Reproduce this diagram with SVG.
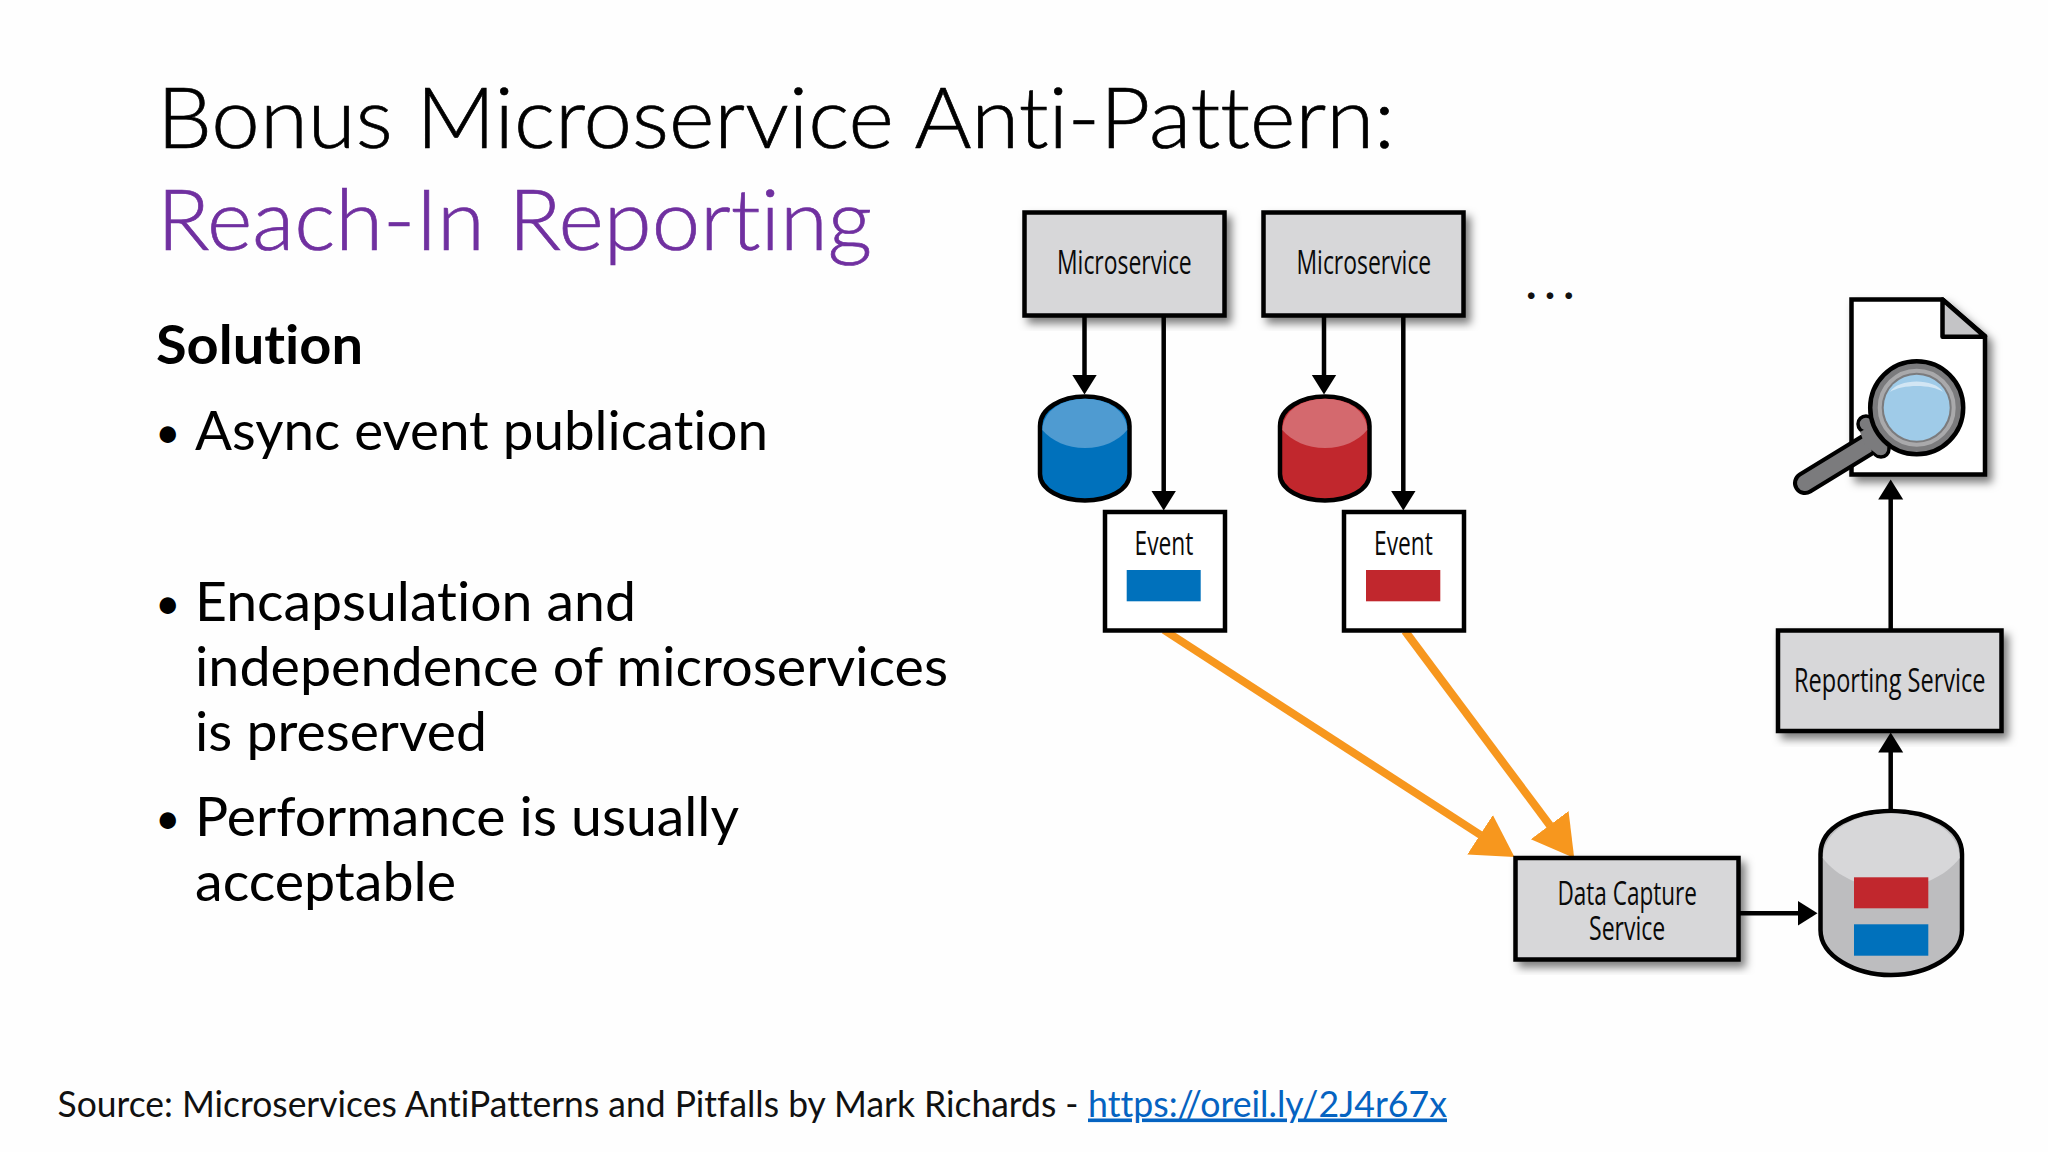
<svg xmlns="http://www.w3.org/2000/svg" width="2048" height="1152" viewBox="0 0 2048 1152">
<style>
.t{font-family:Lato,"Liberation Sans",sans-serif;font-variant-ligatures:none}
.title{font-weight:300;font-size:84px;stroke-width:.7}
.body{font-size:54px;fill:#000}
.bul{font-size:44px;fill:#000}
.src{font-size:36px;fill:#111}
.lab{font-family:"Open Sans","Liberation Sans",sans-serif;font-size:33px;fill:#0a0a0a}
.box{fill:#d7d7d9;stroke:#000;stroke-width:4.5}
.white{fill:#fff;stroke:#000;stroke-width:4.5}
.cyl{stroke:#000;stroke-width:4.5}
.conn{fill:none;stroke:#000;stroke-width:4.5}
.or{fill:none;stroke:#f7971e;stroke-width:8}
</style>
<defs>
<filter id="sh" x="-15%" y="-15%" width="130%" height="130%"><feDropShadow dx="5" dy="6" stdDeviation="4" flood-color="#000" flood-opacity=".5"/></filter>
<marker id="ah" markerUnits="userSpaceOnUse" markerWidth="21" markerHeight="26" refX="0.5" refY="12.5" orient="auto"><path d="M0,0L20,12.5L0,25Z" fill="#000"/></marker>
<marker id="oh" markerUnits="userSpaceOnUse" markerWidth="42" markerHeight="48" refX="0.5" refY="23.5" orient="auto"><path d="M0,0L41,23.5L0,47Z" fill="#f7971e"/></marker>
</defs>
<rect width="2048" height="1152" fill="#fefefe"/>
<g id="slide-text">
<text class="t title" x="157" y="148" textLength="1238" lengthAdjust="spacingAndGlyphs" fill="#000" stroke="#000">Bonus Microservice Anti-Pattern:</text>
<text class="t title" x="157" y="250" textLength="715" lengthAdjust="spacingAndGlyphs" fill="#7030a0" stroke="#7030a0">Reach-In Reporting</text>
<text class="t body" x="156" y="364" font-weight="700" textLength="207" lengthAdjust="spacingAndGlyphs">Solution</text>
<text class="t bul" x="155" y="448">•</text>
<text class="t body" x="195" y="450" textLength="573" lengthAdjust="spacingAndGlyphs">Async event publication</text>
<text class="t bul" x="155" y="619">•</text>
<text class="t body" x="195" y="621" textLength="441" lengthAdjust="spacingAndGlyphs">Encapsulation and</text>
<text class="t body" x="195" y="686" textLength="753" lengthAdjust="spacingAndGlyphs">independence of microservices</text>
<text class="t body" x="195" y="751" textLength="292" lengthAdjust="spacingAndGlyphs">is preserved</text>
<text class="t bul" x="155" y="834">•</text>
<text class="t body" x="195" y="836" textLength="544" lengthAdjust="spacingAndGlyphs">Performance is usually</text>
<text class="t body" x="195" y="901" textLength="261" lengthAdjust="spacingAndGlyphs">acceptable</text>
<text class="t src" x="57.5" y="1116.5" textLength="1021" lengthAdjust="spacingAndGlyphs">Source: Microservices AntiPatterns and Pitfalls by Mark Richards -</text>
<text class="t src" x="1088" y="1116.5" textLength="359" lengthAdjust="spacingAndGlyphs" text-decoration="underline" style="fill:#0563c1">https://oreil.ly/2J4r67x</text>
<text class="t" x="1526" y="299" font-size="44" font-weight="700" textLength="48" fill="#111">...</text>
</g>
<g id="connectors">
<path class="conn" d="M1084.5,316V375" marker-end="url(#ah)"/>
<path class="conn" d="M1163.7,316V491" marker-end="url(#ah)"/>
<path class="conn" d="M1324,316V375" marker-end="url(#ah)"/>
<path class="conn" d="M1403.3,316V491" marker-end="url(#ah)"/>
<path class="conn" d="M1739,913.3H1798" marker-end="url(#ah)"/>
<path class="conn" d="M1890.7,810V752" marker-end="url(#ah)"/>
<path class="conn" d="M1890.7,630V499" marker-end="url(#ah)"/>
<path class="or" d="M1164,630L1480.5,835" marker-end="url(#oh)"/>
<path class="or" d="M1405,631L1550,825.5" marker-end="url(#oh)"/>
</g>
<g id="microservice-1"><rect class="box" x="1024.5" y="212.5" width="200" height="103" filter="url(#sh)"/><text class="lab" transform="translate(1057 274) scale(.7 1)" textLength="192.5" lengthAdjust="spacingAndGlyphs">Microservice</text></g>
<g id="microservice-2"><rect class="box" x="1263.5" y="212.5" width="200" height="103" filter="url(#sh)"/><text class="lab" transform="translate(1296.5 274) scale(.7 1)" textLength="192.5" lengthAdjust="spacingAndGlyphs">Microservice</text></g>
<g id="db-blue">
<path class="cyl" fill="#0071bc" d="M1040,426C1040,408 1062,396.5 1085,396.5C1108,396.5 1129.5,408 1129.5,426V474C1129.5,490 1108,500.5 1085,500.5C1062,500.5 1040,490 1040,474Z"/>
<path fill="#4f9bd1" d="M1042.3,430C1043,410 1063,398.8 1085,398.8C1107,398.8 1126.5,410 1127.2,430C1118,441 1103,448 1085,448C1067,448 1052,441 1042.3,430Z"/>
</g>
<g id="db-red">
<path class="cyl" fill="#c1272d" d="M1280,426C1280,408 1302,396.5 1325,396.5C1348,396.5 1369.5,408 1369.5,426V474C1369.5,490 1348,500.5 1325,500.5C1302,500.5 1280,490 1280,474Z"/>
<path fill="#d4696e" d="M1282.3,430C1283,410 1303,398.8 1325,398.8C1347,398.8 1366.5,410 1367.2,430C1358,441 1343,448 1325,448C1307,448 1292,441 1282.3,430Z"/>
</g>
<g id="event-1"><rect class="white" x="1105" y="512" width="120" height="118.5"/><text class="lab" transform="translate(1134.5 555) scale(.7 1)" textLength="84" lengthAdjust="spacingAndGlyphs">Event</text><rect x="1126.7" y="570" width="74" height="31.3" fill="#0071bc"/></g>
<g id="event-2"><rect class="white" x="1344" y="512" width="120" height="118.5"/><text class="lab" transform="translate(1374 555) scale(.7 1)" textLength="84" lengthAdjust="spacingAndGlyphs">Event</text><rect x="1366" y="570" width="74.3" height="31.3" fill="#c1272d"/></g>
<g id="data-capture-service"><rect class="box" x="1515.5" y="858" width="223" height="101.5" filter="url(#sh)"/><text class="lab" transform="translate(1557.5 904.5) scale(.7 1)" textLength="199" lengthAdjust="spacingAndGlyphs">Data Capture</text><text class="lab" transform="translate(1589 940) scale(.7 1)" textLength="109" lengthAdjust="spacingAndGlyphs">Service</text></g>
<g id="reporting-db">
<path class="cyl" fill="#bdbdbf" d="M1820.5,854C1820.5,826 1855,811 1891,811C1927,811 1962,826 1962,854V930C1962,956 1927,975 1891,975C1855,975 1820.5,956 1820.5,930Z"/>
<path fill="#d7d7d9" d="M1822.8,858C1823.5,829 1857,813.3 1891,813.3C1925,813.3 1959,829 1959.7,858C1945,877 1920,888 1891,888C1862,888 1837,877 1822.8,858Z"/>
<rect x="1854" y="877.3" width="74.3" height="31" fill="#c1272d"/><rect x="1854" y="924.3" width="74.3" height="31.4" fill="#0071bc"/>
</g>
<g id="reporting-service"><rect class="box" x="1778" y="630.5" width="223.5" height="100.5" filter="url(#sh)"/><text class="lab" transform="translate(1794 692) scale(.7 1)" textLength="273.5" lengthAdjust="spacingAndGlyphs">Reporting Service</text></g>
<g id="report">
<path d="M1851.5,299.5H1942.5L1985,336V474.5H1851.5Z" fill="#fff" stroke="#000" stroke-width="4.5" filter="url(#sh)"/>
<path d="M1942.5,299.5L1985,336.7H1942.5Z" fill="#c4c4c6" stroke="#000" stroke-width="4.5" stroke-linejoin="round"/>
<path d="M1805,483L1872,442" stroke="#000" stroke-width="24" stroke-linecap="round" fill="none"/>
<path d="M1805,483L1872,442" stroke="#7b7b7d" stroke-width="16" stroke-linecap="round" fill="none"/>
<circle cx="1866" cy="424" r="8" fill="#7b7b7d" stroke="#000" stroke-width="3.5"/><circle cx="1881" cy="449" r="8" fill="#7b7b7d" stroke="#000" stroke-width="3.5"/>
<path d="M1860,432L1886,418L1896,440L1878,455L1865,445Z" fill="#7b7b7d"/>
<circle cx="1916.7" cy="407.7" r="46.5" fill="#7b7b7d" stroke="#000" stroke-width="4.5"/>
<circle cx="1916.7" cy="407.7" r="37" fill="none" stroke="#a9a9ab" stroke-width="4"/>
<circle cx="1916.7" cy="407.7" r="33" fill="#9fcbe8"/>
<path d="M1890,392C1898,378 1935,378 1943,392C1932,384 1902,384 1890,392Z" fill="#d2e6f4"/>
</g>
</svg>
